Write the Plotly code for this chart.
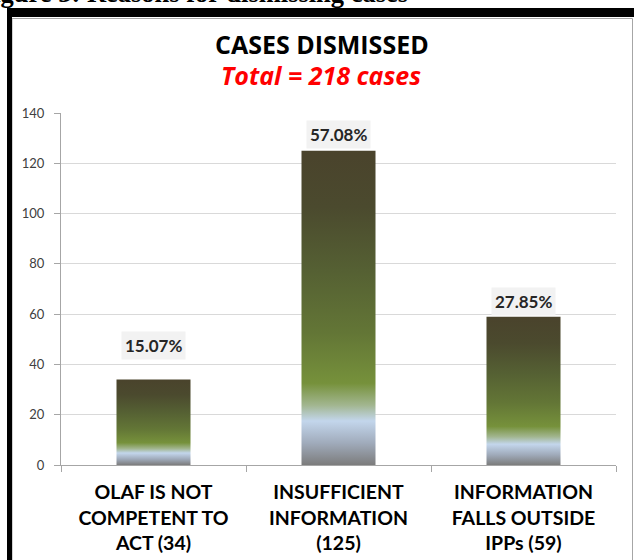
import plotly.graph_objects as go

# ---------------- data ----------------
categories = [
    "OLAF IS NOT<br>COMPETENT TO<br>ACT (34)",
    "INSUFFICIENT<br>INFORMATION<br>(125)",
    "INFORMATION<br>FALLS OUTSIDE<br>IPPs (59)",
]
cases = [34, 125, 59]
percent_labels = ["15.07%", "57.08%", "27.85%"]
y_ticks = [0, 20, 40, 60, 80, 100, 120, 140]
title_text = "CASES DISMISSED"
subtitle_text = "Total = 218 cases"
caption_text = "Figure 3: Reasons for dismissing cases"

# ---------------- layout geometry ----------------
W, H = 634, 560
ML, MR, MT, MB = 61, 18, 113, 95
PW, PH = W - ML - MR, H - MT - MB


def px(x):
    return (x - ML) / PW


def py(y):
    return 1 - (y - MT) / PH


BAR_W = 0.4
gradient = [
    [0.0, "#7c7c7c"],
    [0.07, "#a0abbb"],
    [0.14, "#c3d6ec"],
    [0.19, "#a2b690"],
    [0.26, "#76913b"],
    [0.42, "#637636"],
    [0.62, "#556033"],
    [0.82, "#4b4a2e"],
    [1.0, "#4a432c"],
]

fig = go.Figure()

xs = list(range(len(cases)))

# underlying bars (transparent) through the library's bar scale
fig.add_trace(go.Bar(
    x=xs, y=cases, width=BAR_W,
    marker=dict(color="rgba(0,0,0,0)", line=dict(width=0)),
    hoverinfo="y", showlegend=False,
))

# gradient fill for each bar
for i, v in zip(xs, cases):
    fig.add_trace(go.Scatter(
        x=[i - BAR_W / 2, i + BAR_W / 2, i + BAR_W / 2, i - BAR_W / 2, i - BAR_W / 2],
        y=[0, 0, v, v, 0],
        mode="lines", line=dict(width=0),
        fill="toself",
        fillgradient=dict(type="vertical", colorscale=gradient, start=0, stop=v),
        hoverinfo="skip", showlegend=False,
    ))

# percentage labels
yshifts = [34, 16, 15]
for i, v, lab, ys in zip(xs, cases, percent_labels, yshifts):
    fig.add_annotation(
        x=i, y=v, xref="x", yref="y", text="<b>%s</b>" % lab,
        showarrow=False, yanchor="middle", yshift=ys,
        font=dict(family="Lato", size=17, color="#262626"),
        bgcolor="#f2f2f2", borderpad=3,
    )

# titles
fig.add_annotation(
    x=px(322), y=py(44), xref="paper", yref="paper",
    text="<b>%s</b>" % title_text, showarrow=False,
    xanchor="center", yanchor="middle",
    font=dict(family="Open Sans", size=25, color="#000000"),
)
fig.add_annotation(
    x=px(321), y=py(75), xref="paper", yref="paper",
    text="<b><i>%s</i></b>" % subtitle_text, showarrow=False,
    xanchor="center", yanchor="middle",
    font=dict(family="Open Sans", size=25, color="#ff0000"),
)
fig.add_annotation(
    x=px(-25), y=py(-7), xref="paper", yref="paper",
    text="<b>%s</b>" % caption_text, showarrow=False,
    xanchor="left", yanchor="middle",
    font=dict(family="Liberation Serif", size=26.5, color="#000000"),
)

# frame
shapes = [
    dict(type="rect", xref="paper", yref="paper",
         x0=px(12), x1=px(632.5), y0=py(565), y1=py(18.5),
         line=dict(color="#a6a6a6", width=1), fillcolor="rgba(0,0,0,0)", layer="below"),
    dict(type="rect", xref="paper", yref="paper",
         x0=px(7), x1=px(640), y0=py(17), y1=py(8),
         line=dict(width=0), fillcolor="#000000"),
    dict(type="rect", xref="paper", yref="paper",
         x0=px(7), x1=px(12), y0=py(570), y1=py(8),
         line=dict(width=0), fillcolor="#000000"),
]

fig.update_layout(
    width=W, height=H,
    margin=dict(l=ML, r=MR, t=MT, b=MB, autoexpand=False),
    paper_bgcolor="#ffffff", plot_bgcolor="#ffffff",
    shapes=shapes,
    bargap=0,
    xaxis=dict(
        range=[-0.5, 2.5], tickmode="array", tickvals=xs,
        ticktext=["<b>%s</b>" % c for c in categories],
        ticks="", showgrid=False, zeroline=False, automargin=False,
        showline=True, linecolor="#a6a6a6", linewidth=1,
        tickfont=dict(family="Lato", size=19.5, color="#000000"),
        ticklabelstandoff=10,
        minor=dict(tickmode="array", tickvals=[-0.5, 0.5, 1.5, 2.5],
                   ticks="outside", ticklen=6, tickcolor="#a6a6a6", showgrid=False),
        fixedrange=True,
    ),
    yaxis=dict(
        range=[0, 140], tickmode="array", tickvals=y_ticks,
        ticks="outside", ticklen=6, tickcolor="#a6a6a6",
        showgrid=True, gridcolor="#d9d9d9", gridwidth=1,
        zeroline=False, showline=True, linecolor="#a6a6a6", linewidth=1,
        automargin=False,
        tickfont=dict(family="Lato", size=13, color="#404040"),
        ticklabelstandoff=7,
        fixedrange=True,
    ),
)

fig.write_html(
    "out.html",
    config={"displayModeBar": False},
    post_script="document.body.style.margin='0';document.body.style.overflow='hidden';",
)
